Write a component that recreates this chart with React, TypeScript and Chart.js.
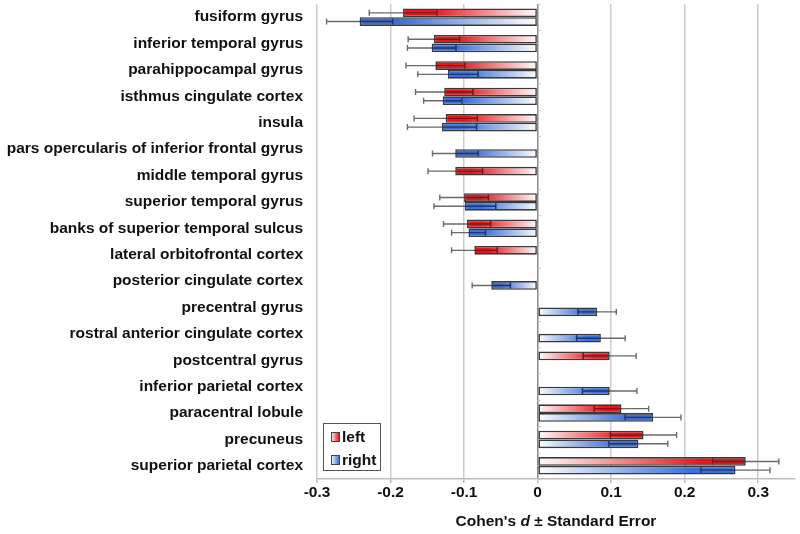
import React, { useEffect, useRef } from "react";
import { Chart, registerables } from "chart.js";

Chart.register(...registerables);

const regions = [
  "fusiform gyrus",
  "inferior temporal gyrus",
  "parahippocampal gyrus",
  "isthmus cingulate cortex",
  "insula",
  "pars opercularis of inferior frontal gyrus",
  "middle temporal gyrus",
  "superior temporal gyrus",
  "banks of superior temporal sulcus",
  "lateral orbitofrontal cortex",
  "posterior cingulate cortex",
  "precentral gyrus",
  "rostral anterior cingulate cortex",
  "postcentral gyrus",
  "inferior parietal cortex",
  "paracentral lobule",
  "precuneus",
  "superior parietal cortex",
];

const leftValues = [-0.183, -0.141, -0.139, -0.127, -0.125, null, -0.112, -0.1, -0.096, -0.086, null, null, null, 0.098, null, 0.114, 0.144, 0.283];
const leftSE = [0.046, 0.035, 0.04, 0.039, 0.043, null, 0.037, 0.033, 0.032, 0.031, null, null, null, 0.036, null, 0.037, 0.045, 0.045];
const rightValues = [-0.242, -0.144, -0.122, -0.129, -0.13, -0.112, null, -0.099, -0.094, null, -0.063, 0.081, 0.086, null, 0.098, 0.157, 0.137, 0.269];
const rightSE = [0.045, 0.033, 0.041, 0.026, 0.047, 0.031, null, 0.042, 0.023, null, 0.026, 0.026, 0.033, null, 0.037, 0.038, 0.04, 0.047];

const xTicks = [-0.3, -0.2, -0.1, 0, 0.1, 0.2, 0.3];

const FONT = "'Liberation Sans', Arial, sans-serif";
const RED = "#e8161b";
const BLUE = "#3b6fd9";
const DARK_RED = "#8a0d0d";
const DARK_BLUE = "#17357f";

function gradientFill(color: string) {
  return (ctx: any) => {
    const chart = ctx.chart;
    const v = ctx.raw;
    if (!chart.chartArea || v == null || !chart.scales.x) return color;
    const xs = chart.scales.x;
    const x0 = xs.getPixelForValue(0);
    const x1 = xs.getPixelForValue(v);
    if (Math.abs(x1 - x0) < 1) return color;
    const g = chart.ctx.createLinearGradient(x0, 0, x1, 0);
    g.addColorStop(0, "#ffffff");
    g.addColorStop(0.78, color);
    g.addColorStop(1, color);
    return g;
  };
}

const errorBarPlugin = {
  id: "errorBars",
  afterDatasetsDraw(chart: any) {
    const ctx = chart.ctx;
    const xs = chart.scales.x;
    const seList = [leftSE, rightSE];
    const darks = [DARK_RED, DARK_BLUE];
    chart.data.datasets.forEach((ds: any, di: number) => {
      const meta = chart.getDatasetMeta(di);
      meta.data.forEach((el: any, i: number) => {
        const v = ds.data[i];
        const se = seList[di][i];
        if (v == null || se == null) return;
        const y = el.y;
        const lo = xs.getPixelForValue(v - se);
        const hi = xs.getPixelForValue(v + se);
        const end = xs.getPixelForValue(v);
        const cap = 3;
        ctx.save();
        ctx.lineWidth = 1.4;
        ctx.strokeStyle = "#6a6a6a";
        ctx.beginPath();
        ctx.moveTo(lo, y);
        ctx.lineTo(hi, y);
        ctx.moveTo(lo, y - cap);
        ctx.lineTo(lo, y + cap);
        ctx.moveTo(hi, y - cap);
        ctx.lineTo(hi, y + cap);
        ctx.stroke();
        const inner = v >= 0 ? lo : hi;
        ctx.strokeStyle = darks[di];
        ctx.beginPath();
        ctx.moveTo(inner, y);
        ctx.lineTo(end, y);
        ctx.moveTo(inner, y - cap);
        ctx.lineTo(inner, y + cap);
        ctx.stroke();
        ctx.restore();
      });
    });
  },
};

const decorPlugin = {
  id: "decor",
  afterDraw(chart: any) {
    const ctx = chart.ctx;
    const area = chart.chartArea;
    const xs = chart.scales.x;
    const x0 = xs.getPixelForValue(0);
    const n = regions.length;
    const catH = (area.bottom - area.top) / n;
    ctx.save();
    ctx.strokeStyle = "#c4c4c4";
    ctx.lineWidth = 1;
    ctx.beginPath();
    for (let i = 0; i <= n; i++) {
      const y = Math.round(area.top + i * catH) + 0.5;
      ctx.moveTo(x0, y);
      ctx.lineTo(x0 + 3, y);
    }
    ctx.stroke();

    // legend
    const lx = area.left + 6;
    const ly = area.bottom - 56;
    const lw = 57;
    const lh = 47;
    ctx.fillStyle = "#ffffff";
    ctx.fillRect(lx, ly, lw, lh);
    ctx.strokeStyle = "#555";
    ctx.lineWidth = 1;
    ctx.strokeRect(lx + 0.5, ly + 0.5, lw, lh);
    const items = [
      { label: "left", color: RED },
      { label: "right", color: BLUE },
    ];
    items.forEach((it, k) => {
      const cy = ly + 14 + k * 23;
      const g = ctx.createLinearGradient(lx + 8, 0, lx + 16, 0);
      g.addColorStop(0, "#ffffff");
      g.addColorStop(1, it.color);
      ctx.fillStyle = g;
      ctx.fillRect(lx + 8, cy - 5, 8, 9);
      ctx.strokeStyle = "#444";
      ctx.strokeRect(lx + 8.5, cy - 4.5, 8, 9);
      ctx.fillStyle = "#111";
      ctx.font = `bold 15.5px ${FONT}`;
      ctx.textAlign = "left";
      ctx.textBaseline = "middle";
      ctx.fillText(it.label, lx + 19, cy + 1);
    });

    // axis title with italic d
    const parts = [
      { t: "Cohen's ", f: `bold 15.5px ${FONT}` },
      { t: "d", f: `italic bold 15.5px ${FONT}` },
      { t: " \u00b1 Standard Error", f: `bold 15.5px ${FONT}` },
    ];
    let total = 0;
    parts.forEach((p) => {
      ctx.font = p.f;
      total += ctx.measureText(p.t).width;
    });
    let tx = (area.left + area.right) / 2 - total / 2;
    const ty = 522;
    ctx.fillStyle = "#111";
    ctx.textBaseline = "middle";
    ctx.textAlign = "left";
    parts.forEach((p) => {
      ctx.font = p.f;
      ctx.fillText(p.t, tx, ty);
      tx += ctx.measureText(p.t).width;
    });
    ctx.restore();
  },
};

export default function App() {
  const ref = useRef<HTMLCanvasElement>(null);
  useEffect(() => {
    if (!ref.current) return;
    const chart = new Chart(ref.current, {
      type: "bar",
      data: {
        labels: regions,
        datasets: [
          {
            label: "left",
            data: leftValues,
            backgroundColor: gradientFill(RED),
            borderColor: "#3a3a3a",
            borderWidth: 1.6,
            borderSkipped: false,
            categoryPercentage: 0.66,
            barPercentage: 1,
          },
          {
            label: "right",
            data: rightValues,
            backgroundColor: gradientFill(BLUE),
            borderColor: "#3a3a3a",
            borderWidth: 1.6,
            borderSkipped: false,
            categoryPercentage: 0.66,
            barPercentage: 1,
          },
        ],
      },
      options: {
        indexAxis: "y",
        responsive: false,
        animation: false,
        devicePixelRatio: 1,
        layout: { padding: { left: 0, top: 4, right: 5, bottom: 0 } },
        plugins: {
          legend: { display: false },
          tooltip: { enabled: false },
        },
        scales: {
          x: {
            min: -0.3,
            max: 0.35,
            afterBuildTicks: (scale: any) => {
              scale.ticks = xTicks.map((v) => ({ value: v }));
            },
            afterFit: (scale: any) => {
              scale.height = 55;
              scale.paddingLeft = 0;
              scale.paddingRight = 0;
            },
            ticks: {
              includeBounds: false,
              padding: 0,
              color: "#111",
              font: { family: FONT, size: 15.5, weight: "bold" },
              callback: (v: any) => (Math.abs(Number(v)) < 1e-9 ? "0" : Number(v).toFixed(1)),
            },
            grid: {
              color: (c: any) => (c.tick && Math.abs(c.tick.value) < 1e-9 ? "#8a8a8a" : "#cdcdcd"),
              lineWidth: 1.5,
              drawTicks: true,
              tickLength: 4,
              tickColor: "#bdbdbd",
            },
            border: { display: true, color: "#bdbdbd", width: 1.5 },
          },
          y: {
            afterFit: (scale: any) => {
              scale.width = 317;
              scale.paddingTop = 0;
              scale.paddingBottom = 0;
            },
            ticks: {
              autoSkip: false,
              padding: 14,
              color: "#111",
              font: { family: FONT, size: 15.5, weight: "bold" },
            },
            grid: { display: false, drawTicks: false },
            border: { display: false },
          },
        },
      },
      plugins: [errorBarPlugin, decorPlugin],
    } as any);
    return () => chart.destroy();
  }, []);
  return (
    <div style={{ position: "absolute", left: 0, top: 0, width: 800, height: 534, background: "#fff" }}>
      <canvas ref={ref} width={800} height={534} />
    </div>
  );
}
